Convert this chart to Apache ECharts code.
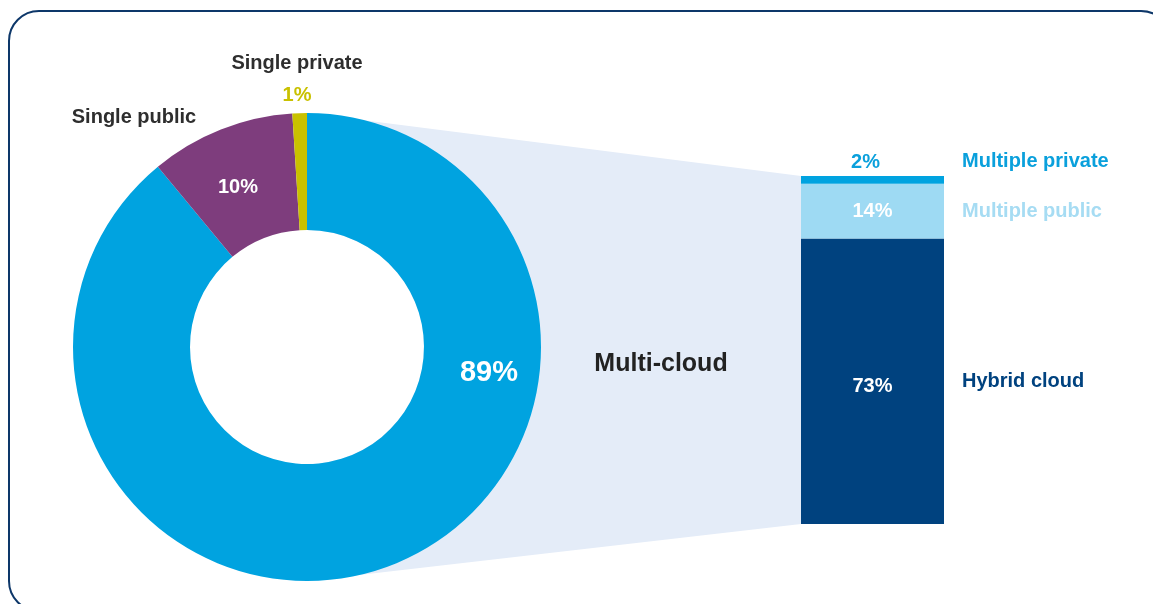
<!DOCTYPE html>
<html>
<head>
<meta charset="utf-8">
<style>
  html, body { margin: 0; padding: 0; background: #ffffff; }
  #chart { width: 1153px; height: 604px; }
</style>
<script src="https://cdn.jsdelivr.net/npm/echarts@6/dist/echarts.min.js"></script>
</head>
<body>
<div id="chart"></div>
<script>
// ---- data ----
const pieNames = ['Multi-cloud', 'Single public', 'Single private'];
const pieValues = [89, 10, 1];
const pieColors = ['#00a3e0', '#7e3d7d', '#c9c100'];

const barCategory = ['Multi-cloud'];
const barNames = ['Hybrid cloud', 'Multiple public', 'Multiple private'];
const barValues = [73, 14, 2];
const barColors = ['#00427f', '#9edaf3', '#00a3e0'];
const barNameColors = ['#00427f', '#a6dcf3', '#0aa0dc'];

// ---- layout constants ----
const FONT = '"Liberation Sans", Arial, sans-serif';
const FS = 20;
const PIE_C = [307, 347];
const PIE_R = [117, 234];
const BAR_TOTAL = pieValues[0];

const chart = echarts.init(document.getElementById('chart'), null, { renderer: 'canvas' });

// positions of pie value labels
const pieLabelPos = [
  { x: 489, y: 373 },
  { x: 238, y: 187 },
  { x: 297, y: 79 }
];

const pieData = pieNames.map((n, i) => ({
  name: n,
  value: pieValues[i],
  itemStyle: { color: pieColors[i] },
  label: i === 2 ? {
    formatter: '{n|{b}}\n{v|{c}%}',
    rich: {
      n: { color: '#2e2e2e', fontSize: FS, fontWeight: 'bold', fontFamily: FONT, lineHeight: 32 },
      v: { color: '#c9c100', fontSize: FS, fontWeight: 'bold', fontFamily: FONT, lineHeight: 32 }
    }
  } : {
    formatter: '{c}%',
    color: '#ffffff',
    fontSize: i === 0 ? 29 : FS
  }
}));

const barSeries = [];
barNames.forEach((n, i) => {
  barSeries.push({
    name: n,
    type: 'bar',
    stack: 'vals',
    barWidth: '100%',
    barGap: '-100%',
    data: [barValues[i]],
    itemStyle: { color: barColors[i] },
    label: {
      show: true,
      position: i === 2 ? 'top' : 'inside',
      offset: i === 2 ? [-7, 1] : (i === 0 ? [0, 5] : [0, 0]),
      formatter: '{c}%',
      color: i === 2 ? '#0aa0dc' : '#ffffff',
      fontSize: FS,
      fontWeight: 'bold',
      fontFamily: FONT
    },
    silent: true,
    z: 3
  });
});
barNames.forEach((n, i) => {
  barSeries.push({
    name: n + ' ',
    type: 'bar',
    stack: 'names',
    barWidth: '100%',
    barGap: '-100%',
    data: [barValues[i]],
    itemStyle: { color: 'rgba(0,0,0,0)' },
    label: {
      show: true,
      position: 'right',
      distance: 18,
      offset: i === 2 ? [0, -18] : [0, 0],
      formatter: n,
      color: barNameColors[i],
      fontSize: FS,
      fontWeight: 'bold',
      fontFamily: FONT
    },
    silent: true,
    z: 4
  });
});

const option = {
  animation: false,
  backgroundColor: '#ffffff',
  textStyle: { fontFamily: FONT },
  grid: { left: 801, width: 143, top: 176, height: 348 },
  xAxis: { type: 'category', data: barCategory, show: false },
  yAxis: { type: 'value', min: 0, max: BAR_TOTAL, show: false },
  series: [
    {
      type: 'pie',
      center: PIE_C,
      radius: PIE_R,
      startAngle: 90,
      clockwise: true,
      silent: true,
      z: 3,
      label: {
        show: true,
        fontWeight: 'bold',
        fontFamily: FONT
      },
      labelLine: { show: false },
      labelLayout: function (params) {
        const p = pieLabelPos[params.dataIndex];
        return { x: p.x, y: p.y, align: 'center', verticalAlign: 'middle' };
      },
      data: pieData
    }
  ].concat(barSeries),
  graphic: [
    {
      id: 'frame',
      type: 'rect',
      z: 0,
      shape: { x: 9, y: 11, width: 1162, height: 600, r: 30 },
      style: { fill: 'none', stroke: '#0d3769', lineWidth: 2 }
    },
    {
      id: 'hole',
      type: 'circle',
      z: 1,
      shape: { cx: PIE_C[0], cy: PIE_C[1], r: PIE_R[0] },
      style: { fill: '#ffffff' }
    },
    {
      id: 'pubName',
      type: 'text',
      z: 5,
      x: 134, y: 117,
      style: {
        text: pieNames[1], fill: '#2e2e2e', font: 'bold ' + FS + 'px ' + FONT,
        align: 'center', verticalAlign: 'middle'
      }
    },
    {
      id: 'multiName',
      type: 'text',
      z: 5,
      x: 661, y: 364,
      style: {
        text: pieNames[0], fill: '#222222', font: 'bold 25px ' + FONT,
        align: 'center', verticalAlign: 'middle'
      }
    }
  ]
};

chart.setOption(option);

// connector from pie to bar, computed through the bar's axes
const topMid = chart.convertToPixel({ xAxisIndex: 0, yAxisIndex: 0 }, [0, BAR_TOTAL]);
const botMid = chart.convertToPixel({ xAxisIndex: 0, yAxisIndex: 0 }, [0, 0]);
const barLeft = topMid[0] - 143 / 2;
chart.setOption({
  graphic: [{
    id: 'connector',
    type: 'polygon',
    z: 0,
    shape: {
      points: [
        [PIE_C[0], PIE_C[1] - PIE_R[1]],
        [barLeft, topMid[1]],
        [barLeft, botMid[1]],
        [PIE_C[0], PIE_C[1] + PIE_R[1]]
      ]
    },
    style: { fill: '#e4ecf8' }
  }]
});
</script>
</body>
</html>
